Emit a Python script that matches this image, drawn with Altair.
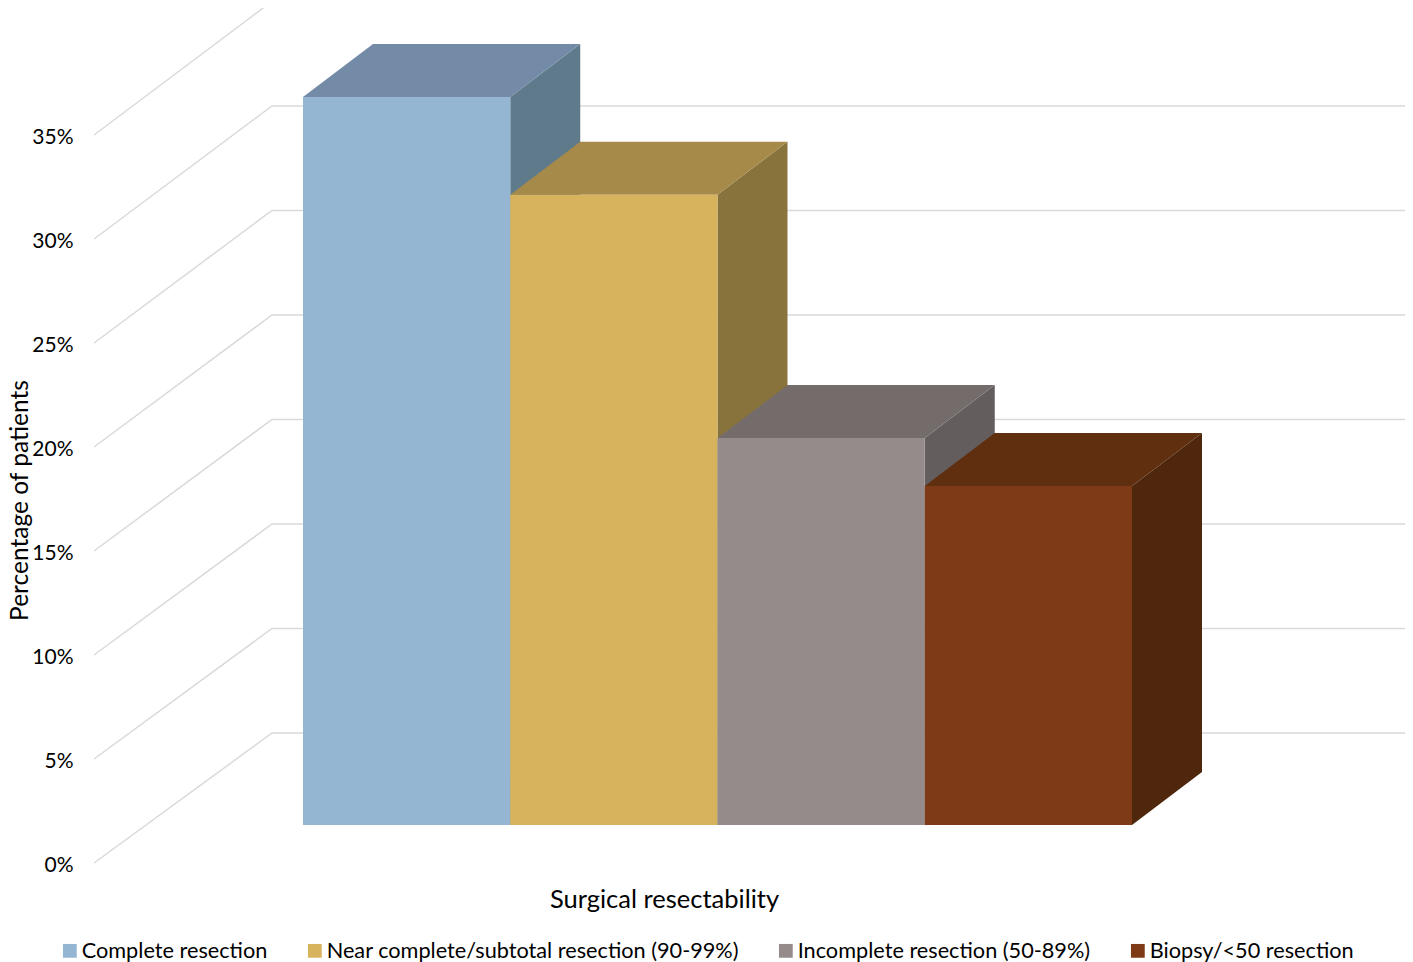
import altair as alt
import pandas as pd

categories = ["Complete resection", "Near complete/subtotal resection (90-99%)",
              "Incomplete resection (50-89%)", "Biopsy/<50 resection"]
values = [35.0, 30.3, 18.6, 16.3]
front_colors = ["#94B6D3", "#D8B35D", "#958B8B", "#7E3A16"]
top_colors = ["#738BA6", "#A58A4A", "#746C6B", "#5F2F10"]
side_colors = ["#5F7A8B", "#89733D", "#645D5E", "#4F270D"]
ticks = [0, 5, 10, 15, 20, 25, 30, 35]

FONT = "Lato"
VIEW_LEFT, VIEW_RIGHT = 80, 1405
WIDTH, HEIGHT = VIEW_RIGHT - VIEW_LEFT, 954
PX_PER_PCT = 20.8
ZERO_Y = 855  # chart-space pixel of 0% on the front plane

BAR_X0, BAR_W = 303, 207.25
BAR_BASE = 38 / PX_PER_PCT
DEPTH_X, DEPTH_V = 70, 53 / PX_PER_PCT
WALL_X0, WALL_X1 = 94, 272
WALL_SHIFT, WALL_STRETCH = 130 / PX_PER_PCT, 1.005

x_scale = alt.Scale(domain=[VIEW_LEFT, VIEW_RIGHT], nice=False, zero=False)
y_scale = alt.Scale(domain=[(ZERO_Y - HEIGHT) / PX_PER_PCT, ZERO_Y / PX_PER_PCT], nice=False, zero=False)

grid_rows = []
for t in ticks:
    back = t * WALL_STRETCH + WALL_SHIFT
    grid_rows += [{"t": t, "x": WALL_X0, "v": t}, {"t": t, "x": WALL_X1, "v": back},
                  {"t": t, "x": VIEW_RIGHT, "v": back}]

grid = alt.Chart(pd.DataFrame(grid_rows)).mark_line(color="#D9D9D9", strokeWidth=1.5).encode(
    x=alt.X("x:Q", scale=x_scale, axis=alt.Axis(
        title="Surgical resectability", labels=False, ticks=False, domain=False, grid=False,
        titleFont=FONT, titleFontSize=25.5, titleFontWeight="normal", titleColor="#000000",
        titleX=664 - VIEW_LEFT, titleY=-63, titleBaseline="middle", titleAlign="center")),
    y=alt.Y("v:Q", scale=y_scale, axis=alt.Axis(
        values=ticks, format=".0f", labelExpr="datum.value + '%'", ticks=False, domain=False, grid=False,
        labelFont=FONT, labelFontSize=21, labelColor="#000000", labelPadding=7, labelOffset=2,
        title="Percentage of patients", titleFont=FONT, titleFontSize=24.5, titleFontWeight="normal",
        titleColor="#000000", titleX=-47.5, titleY=492, titleAlign="center", titleBaseline="bottom")),
    detail="t:N",
    order="x:Q",
)

layers = [grid]
fronts = []
for i, (cat, val) in enumerate(zip(categories, values)):
    x1 = BAR_X0 + i * BAR_W
    x2 = x1 + BAR_W
    top_v = BAR_BASE + val
    side = pd.DataFrame([
        {"x": x2, "y": BAR_BASE, "y2": top_v},
        {"x": x2 + DEPTH_X, "y": BAR_BASE + DEPTH_V, "y2": top_v + DEPTH_V},
    ])
    top = pd.DataFrame([
        {"y": top_v, "x": x1, "x2": x2},
        {"y": top_v + DEPTH_V, "x": x1 + DEPTH_X, "x2": x2 + DEPTH_X},
    ])
    layers.append(alt.Chart(side).mark_area(orient="vertical", color=side_colors[i]).encode(
        x=alt.X("x:Q", scale=x_scale), y=alt.Y("y:Q", scale=y_scale, stack=None), y2="y2:Q"))
    layers.append(alt.Chart(top).mark_area(orient="horizontal", color=top_colors[i]).encode(
        y=alt.Y("y:Q", scale=y_scale), x=alt.X("x:Q", scale=x_scale, stack=None), x2="x2:Q"))
    fronts.append({"cat": cat, "x": x1, "x2": x2, "y": BAR_BASE, "y2": top_v})

front_layer = alt.Chart(pd.DataFrame(fronts)).mark_rect().encode(
    x=alt.X("x:Q", scale=x_scale), x2="x2:Q",
    y=alt.Y("y:Q", scale=y_scale), y2="y2:Q",
    color=alt.Color("cat:N", scale=alt.Scale(domain=categories, range=front_colors), legend=alt.Legend(
        title=None, orient="none", legendX=59 - VIEW_LEFT, legendY=932, direction="horizontal",
        columns=4, gridAlign="none", columnPadding=36, symbolType="square", symbolSize=190,
        symbolStrokeWidth=0, labelFont=FONT, labelFontSize=21.7, labelColor="#000000", labelLimit=500,
        labelOffset=1)),
)
layers.append(front_layer)

chart = alt.layer(*layers).properties(
    width=WIDTH, height=HEIGHT,
    autosize=alt.AutoSizeParams(type="none"),
    padding={"left": VIEW_LEFT - 8, "top": 0, "right": 0, "bottom": 0},
).configure_view(stroke=None)

chart.save("out.html", embed_options={"renderer": "svg", "actions": False})
